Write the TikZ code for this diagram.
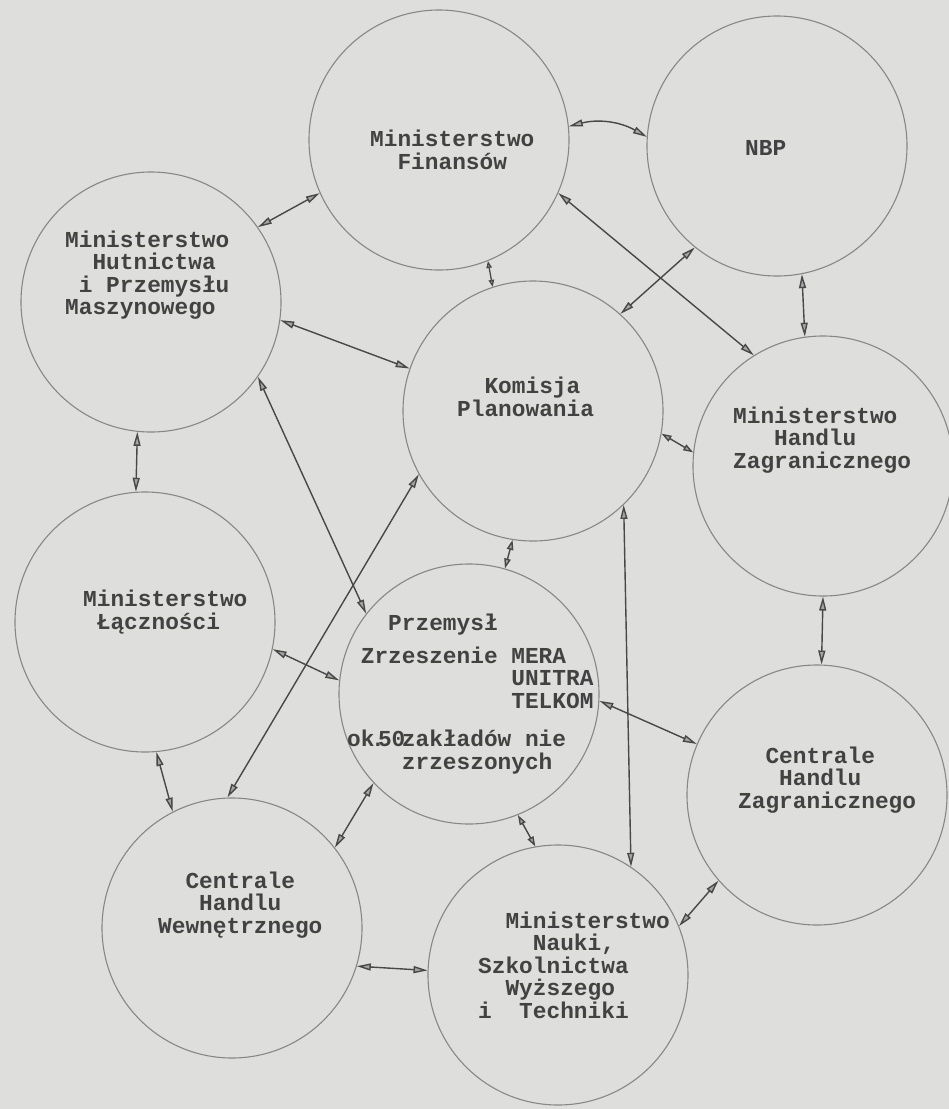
\documentclass[tikz,border=0pt]{standalone}
\usepackage{fontspec}
\setmonofont{Liberation Mono}
\usetikzlibrary{arrows.meta}
\definecolor{paper}{RGB}{222,222,220}
\definecolor{ink}{RGB}{66,66,66}
\definecolor{ring}{RGB}{135,135,135}
\definecolor{arrowc}{RGB}{72,72,72}
\definecolor{tipfill}{RGB}{165,165,165}
\tikzset{
  circ/.style={circle, draw=ring, line width=1.1pt, minimum size=260pt, inner sep=0pt},
  lbl/.style={font=\ttfamily\bfseries\fontsize{22.8}{22.5}\selectfont, text=ink, align=left, inner sep=0pt, anchor=west},
  link/.style={draw=arrowc, line width=1.4pt,
    {Triangle[length=14pt,width=7pt,fill=tipfill]}-{Triangle[length=14pt,width=7pt,fill=tipfill]}},
  shortlink/.style={draw=arrowc, line width=1.4pt,
    {Triangle[length=10pt,width=6.5pt,fill=tipfill]}-{Triangle[length=10pt,width=6.5pt,fill=tipfill]}},
  tinylink/.style={draw=arrowc, line width=1.3pt,
    {Triangle[length=7pt,width=5.5pt,fill=tipfill]}-{Triangle[length=7pt,width=5.5pt,fill=tipfill]}},
}
\begin{document}
\begin{tikzpicture}[x=1pt,y=-1pt]
\fill[paper] (0,0) rectangle (949,1109);
\useasboundingbox (0,0) rectangle (949,1109);

% circles
\node[circ] (mf)    at (439,140) {};
\node[circ] (nbp)   at (777,146) {};
\node[circ] (hut)   at (151,302) {};
\node[circ] (kp)    at (533,411) {};
\node[circ] (mhz)   at (823,466) {};
\node[circ] (lacz)  at (145,622) {};
\node[circ] (prz)   at (469,694) {};
\node[circ] (chz)   at (817,795) {};
\node[circ] (chw)   at (232,928) {};
\node[circ] (nauki) at (558,975) {};

% labels
\node[lbl] (tmf) at (370,150) {Ministerstwo\\\hspace*{1.2em}Finansów};
\node[lbl] (tnbp) at (745,148) {NBP};
\node[lbl] (thut) at (65,275) {Ministerstwo\\\hspace*{1.2em}Hutnictwa\\\hspace*{0.6em}i Przemysłu\\Maszynowego};
\node[lbl] (tkp) at (457,397) {\hspace*{1.2em}Komisja\\Planowania};
\node[lbl] (tmhz) at (733,440) {Ministerstwo\\\hspace*{1.8em}Handlu\\Zagranicznego};
\node[lbl] (tlacz) at (83,612) {Ministerstwo\\\hspace*{0.6em}Łączności};
\node[lbl] (tprz) at (347,694) {\hspace*{1.8em}Przemysł\\[10pt]\hspace*{0.6em}Zrzeszenie MERA\\\hspace*{7.2em}UNITRA\\\hspace*{7.2em}TELKOM\\[16pt]ok\hspace{-0.15em}.\hspace{-0.3em}50\hspace{-0.15em}zakładów nie\\\hspace*{2.4em}zrzeszonych};
\node[lbl] (tchz) at (738,780) {\hspace*{1.2em}Centrale\\\hspace*{1.8em}Handlu\\Zagranicznego};
\node[lbl] (tchw) at (158,905) {\hspace*{1.2em}Centrale\\\hspace*{1.8em}Handlu\\Wewnętrznego};
\node[lbl] (tnauki) at (478,965) {\hspace*{1.2em}Ministerstwo\\\hspace*{2.4em}Nauki,\\Szkolnictwa\\\hspace*{1.2em}Wyższego\\i\hspace{1.2em}Techniki};

% connectors
\draw[link] (mf.6) to[bend left=22] (nbp.176);
\draw[link] (mf.204) -- (hut.35);
\draw[tinylink] (mf.292) -- (kp.108);
\draw[link] (mf.-24) -- (mhz.122);
\draw[link] (nbp.231) -- (kp.48);
\draw[link] (nbp.281) -- (mhz.98);
\draw[link] (hut.-8) -- (kp.161);
\draw[link] (hut.264) -- (lacz.94);
\draw[link] (hut.-35) -- (prz.142);
\draw[shortlink] (kp.-10) -- (mhz.174);
\draw[shortlink] (kp.261) -- (prz.74);
\draw[link] (kp.209) -- (chw.92);
\draw[link] (kp.-46) -- (nauki.56);
\draw[link] (mhz.270) -- (chz.88);
\draw[link] (lacz.-12) -- (prz.174);
\draw[link] (lacz.275) -- (chw.117);
\draw[link] (prz.-3) -- (chz.157);
\draw[link] (prz.223) -- (chw.38);
\draw[shortlink] (prz.-68) -- (nauki.100);
\draw[link] (chw.-17) -- (nauki.178);
\draw[link] (nauki.22) -- (chz.221);
\end{tikzpicture}
\end{document}
